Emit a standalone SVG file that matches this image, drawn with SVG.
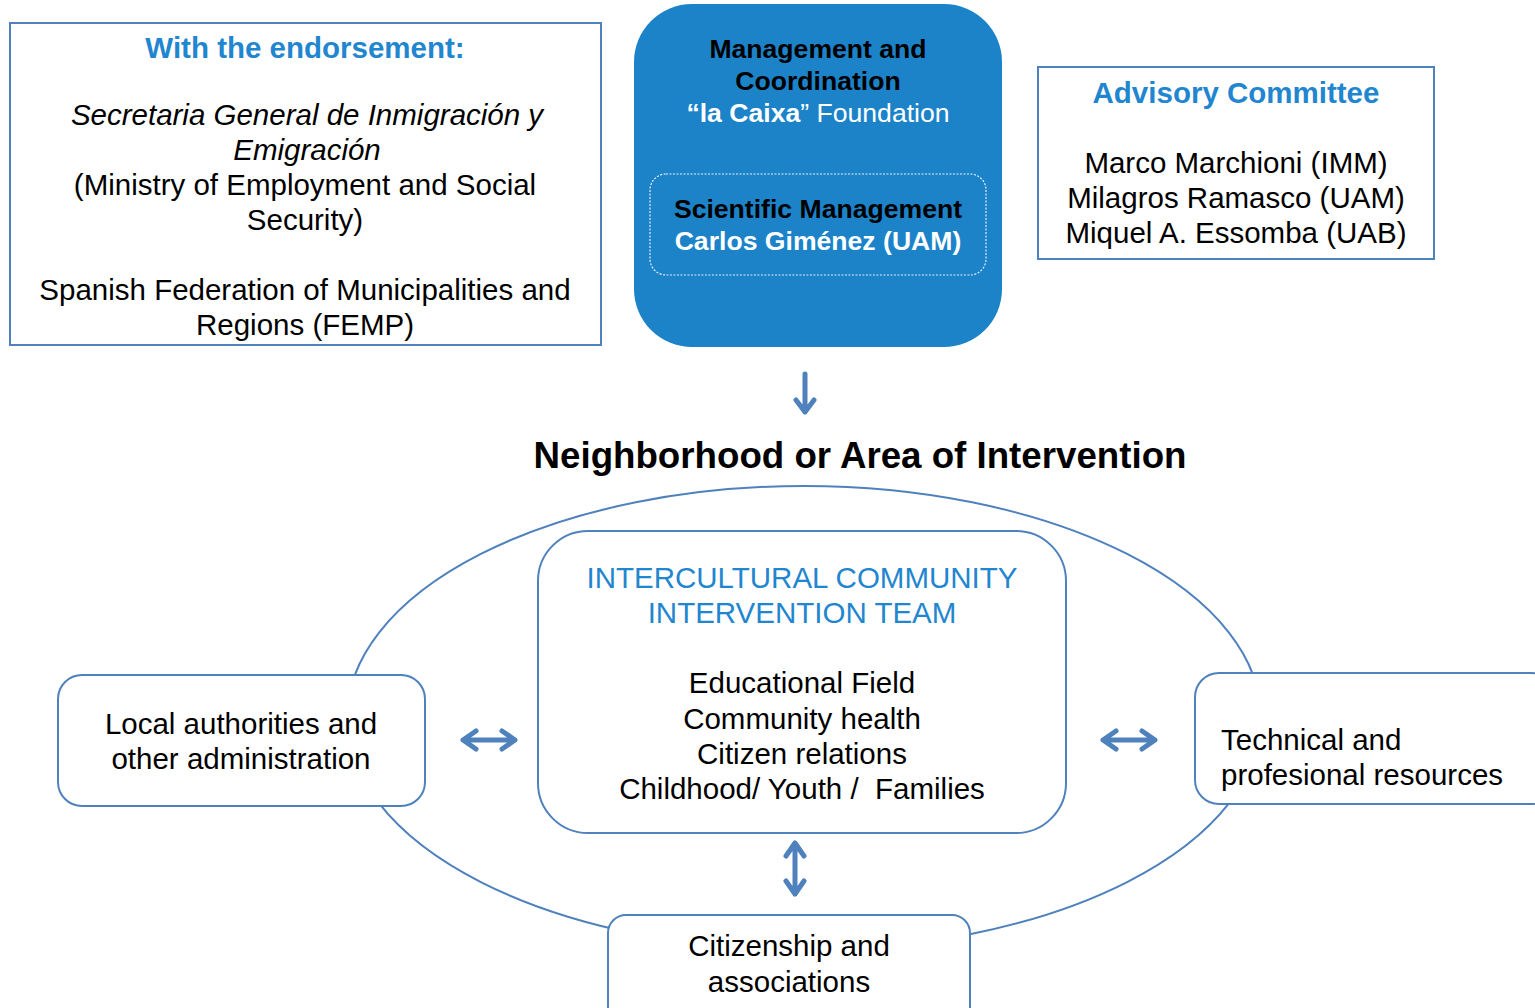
<svg xmlns="http://www.w3.org/2000/svg" width="1535" height="1008" viewBox="0 0 1535 1008">
<defs>
<style>
text{font-family:"Liberation Sans",Arial,sans-serif;fill:#000;text-anchor:middle}
.s{font-size:29.5px}
.m{font-size:26.6px}
.b{font-weight:bold}
.blue{fill:#1f86cf}
.w{fill:#fff}
.l{text-anchor:start}
.box{fill:#fff;stroke:#4f81bd;stroke-width:2}
.arr{fill:none;stroke:#4f81bd;stroke-width:5;stroke-linecap:round;stroke-linejoin:round}
</style>
</defs>
<rect width="1535" height="1008" fill="#fff"/>
<g id="connectors">
<ellipse cx="804" cy="718" rx="457" ry="232" fill="none" stroke="#4f81bd" stroke-width="2"/>
<path class="arr" d="M805 374 V412 M796 400 L805 412 L814 400" stroke-width="3.5"/>
<path class="arr" d="M463 740 H515 M476 731 L463 740 L476 749 M502 731 L515 740 L502 749"/>
<path class="arr" d="M1103 740 H1155 M1116 731 L1103 740 L1116 749 M1142 731 L1155 740 L1142 749"/>
<path class="arr" d="M795 843 V894 M786 856 L795 843 L804 856 M786 881 L795 894 L804 881"/>
</g>
<g id="endorsement">
<rect class="box" x="10" y="23" width="591" height="322"/>
<text class="s b blue" x="305" y="58">With the endorsement:</text>
<text class="s" x="307" y="125" font-style="italic">Secretaria General de Inmigración y</text>
<text class="s" x="307" y="160" font-style="italic">Emigración</text>
<text class="s" x="305" y="195">(Ministry of Employment and Social</text>
<text class="s" x="305" y="230">Security)</text>
<text class="s" x="305" y="300">Spanish Federation of Municipalities and</text>
<text class="s" x="305" y="335">Regions (FEMP)</text>
</g>
<g id="management">
<rect x="634" y="4" width="368" height="343" rx="58" fill="#1c83c9"/>
<text class="m b" x="818" y="58">Management and</text>
<text class="m b" x="818" y="90">Coordination</text>
<text class="m w" x="818" y="122"><tspan font-weight="bold">“la Caixa</tspan>” Foundation</text>
</g>
<g id="scientific">
<rect x="650" y="174" width="336" height="101" rx="16" fill="none" stroke="#e6eef8" stroke-width="1.2" stroke-dasharray="2 1.5"/>
<text class="m b" x="818" y="218">Scientific Management</text>
<text class="m b w" x="818" y="250">Carlos Giménez (UAM)</text>
</g>
<g id="advisory">
<rect class="box" x="1038" y="67" width="396" height="192"/>
<text class="s b blue" x="1236" y="103">Advisory Committee</text>
<text class="s" x="1236" y="173">Marco Marchioni (IMM)</text>
<text class="s" x="1236" y="208">Milagros Ramasco (UAM)</text>
<text class="s" x="1236" y="243">Miquel A. Essomba (UAB)</text>
</g>
<g id="title">
<text class="b" x="860" y="468" style="font-size:36.7px">Neighborhood or Area of Intervention</text>
</g>
<g id="team">
<rect class="box" x="538" y="531" width="528" height="302" rx="50"/>
<text class="s blue" x="802" y="588">INTERCULTURAL COMMUNITY</text>
<text class="s blue" x="802" y="623">INTERVENTION TEAM</text>
<text class="s" x="802" y="693">Educational Field</text>
<text class="s" x="802" y="729">Community health</text>
<text class="s" x="802" y="764">Citizen relations</text>
<text class="s" x="802" y="799" xml:space="preserve">Childhood/ Youth /  Families</text>
</g>
<g id="local">
<rect class="box" x="58" y="675" width="367" height="131" rx="24"/>
<text class="s" x="241" y="734">Local authorities and</text>
<text class="s" x="241" y="769">other administration</text>
</g>
<g id="technical">
<rect class="box" x="1195" y="673" width="360" height="131" rx="24"/>
<text class="s l" x="1221" y="750">Technical and</text>
<text class="s l" x="1221" y="785">profesional resources</text>
</g>
<g id="citizenship">
<rect class="box" x="608" y="915" width="362" height="110" rx="18"/>
<text class="s" x="789" y="956">Citizenship and</text>
<text class="s" x="789" y="992">associations</text>
</g>
</svg>
